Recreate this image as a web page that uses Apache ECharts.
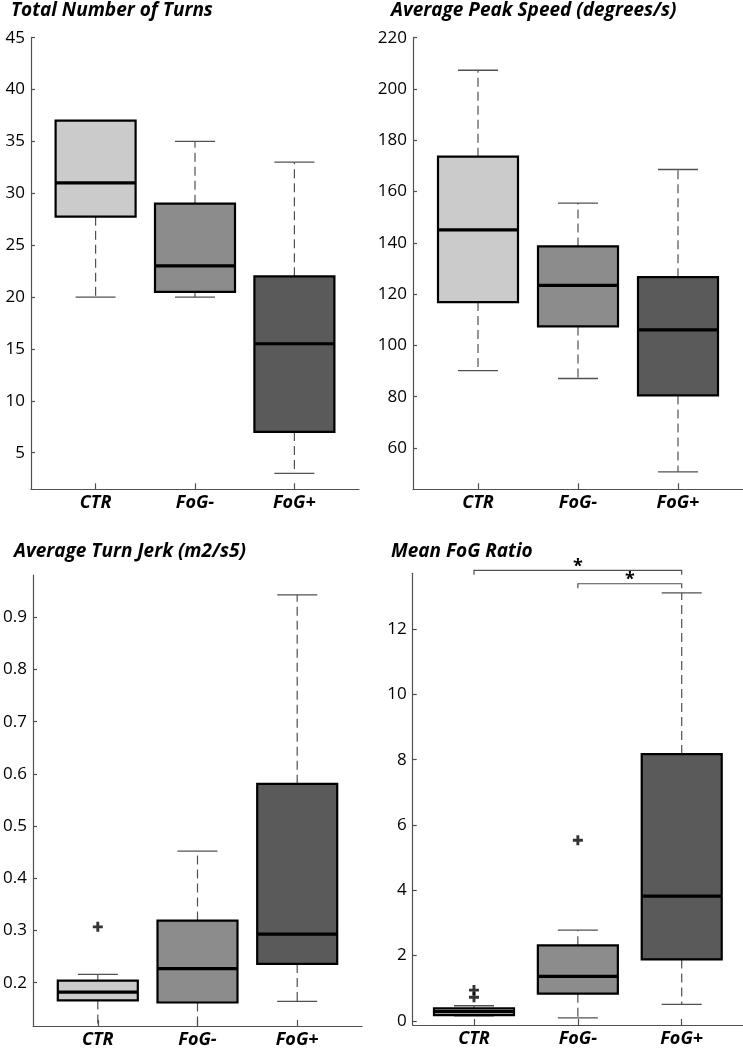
<!DOCTYPE html>
<html>
<head>
<meta charset="utf-8">
<script src="https://cdn.jsdelivr.net/npm/echarts@6/dist/echarts.min.js"></script>
<style>
  html, body { margin: 0; padding: 0; background: #fff; }
  #chart { width: 743px; height: 1050px; }
</style>
</head>
<body>
<div id="chart"></div>
<script>
// ---- Data ----
const categories = ['CTR', 'FoG-', 'FoG+'];

// [min whisker, Q1, median, Q3, max whisker]
const turnsStats = [[20, 27.75, 31, 37, 37], [20, 20.5, 23, 29, 35], [3, 7, 15.5, 22, 33]];
const speedStats = [[90.2, 116.9, 145.1, 173.6, 207.3], [87.1, 107.4, 123.4, 138.6, 155.5], [50.7, 80.5, 106.1, 126.6, 168.6]];
const jerkStats = [[0.10, 0.166, 0.182, 0.204, 0.216], [0.10, 0.162, 0.227, 0.319, 0.452], [0.164, 0.236, 0.293, 0.581, 0.943]];
const fogStats = [[0.15, 0.175, 0.28, 0.38, 0.46], [0.09, 0.83, 1.36, 2.31, 2.78], [0.50, 1.88, 3.82, 8.17, 13.11]];

// outliers: [category index, value]
const turnsOutliers = [];
const speedOutliers = [];
const jerkOutliers = [[0, 0.307]];
const fogOutliers = [[0, 0.94], [0, 0.72], [1, 5.53]];

// significance brackets: [from category, to category, bracket level]
const fogSignificance = [[0, 2, 13.80], [1, 2, 13.39]];

// tick labels
const turnsTicks = [5, 10, 15, 20, 25, 30, 35, 40, 45];
const speedTicks = [60, 80, 100, 120, 140, 160, 180, 200, 220];
const jerkTicks = [0.2, 0.3, 0.4, 0.5, 0.6, 0.7, 0.8, 0.9];
const fogTicks = [0, 2, 4, 6, 8, 10, 12];
const categoryTicks = [1, 2, 3];

const titles = ['Total Number of Turns', 'Average Peak Speed (degrees/s)', 'Average Turn Jerk (m2/s5)', 'Mean FoG Ratio'];

// ---- Styling ----
const FONT = "'Open Sans', 'Noto Sans', sans-serif";
const boxColors = ['#cbcbcb', '#8c8c8c', '#5a5a5a'];
const AXIS_COLOR = '#505050';
const BOX_HALF = 40;
const CAP_HALF = 20;

const panels = [
  { stats: turnsStats, outliers: turnsOutliers, ticks: turnsTicks, ymin: 1.47, ymax: 45, xmin: 0.35, xmax: 3.65,
    grid: { left: 31, top: 37.7, width: 328, height: 451.6 }, title: { left: 11, top: 1 } },
  { stats: speedStats, outliers: speedOutliers, ticks: speedTicks, ymin: 43.9, ymax: 220, xmin: 0.35, xmax: 3.65,
    grid: { left: 413, top: 37.7, width: 330, height: 451.6 }, title: { left: 391, top: 1 } },
  { stats: jerkStats, outliers: jerkOutliers, ticks: jerkTicks, ymin: 0.117, ymax: 0.981, xmin: 0.35, xmax: 3.65,
    grid: { left: 33, top: 575, width: 329, height: 451 }, title: { left: 14, top: 542.5 } },
  { stats: fogStats, outliers: fogOutliers, ticks: fogTicks, ymin: -0.13, ymax: 13.71, xmin: 0.41, xmax: 3.59,
    grid: { left: 412.7, top: 573.3, width: 330.3, height: 451.7 }, title: { left: 391, top: 542.5 } }
];

function boxRender(params, api) {
  const idx = api.value(0);
  const v = [api.value(1), api.value(2), api.value(3), api.value(4), api.value(5)];
  const cs = params.coordSys;
  const cx = api.coord([idx, v[2]])[0];
  const yOf = (val) => api.coord([idx, val])[1];
  const top = cs.y, bottom = cs.y + cs.height;
  const clampY = (y) => Math.max(top, Math.min(bottom, y));
  const yMin = yOf(v[0]), yQ1 = yOf(v[1]), yMed = yOf(v[2]), yQ3 = yOf(v[3]), yMax = yOf(v[4]);
  const whiskerStyle = { stroke: AXIS_COLOR, lineWidth: 1.2, lineDash: [9, 5] };
  const capStyle = { stroke: AXIS_COLOR, lineWidth: 1.3 };
  const children = [];
  if (yMin > yQ1) children.push({ type: 'line', shape: { x1: cx, y1: yQ1, x2: cx, y2: clampY(yMin) }, style: whiskerStyle });
  if (yMax < yQ3) children.push({ type: 'line', shape: { x1: cx, y1: yQ3, x2: cx, y2: clampY(yMax) }, style: whiskerStyle });
  if (yMin <= bottom) children.push({ type: 'line', shape: { x1: cx - CAP_HALF, y1: yMin, x2: cx + CAP_HALF, y2: yMin }, style: capStyle });
  if (yMax >= top) children.push({ type: 'line', shape: { x1: cx - CAP_HALF, y1: yMax, x2: cx + CAP_HALF, y2: yMax }, style: capStyle });
  children.push({ type: 'rect', shape: { x: cx - BOX_HALF, y: yQ3, width: BOX_HALF * 2, height: yQ1 - yQ3 },
    style: { fill: boxColors[Math.round(idx) - 1], stroke: '#000', lineWidth: 2.2 } });
  children.push({ type: 'line', shape: { x1: cx - BOX_HALF, y1: yMed, x2: cx + BOX_HALF, y2: yMed },
    style: { stroke: '#000', lineWidth: 3.2 } });
  return { type: 'group', children };
}

function bracketRender(params, api) {
  const a = api.value(0), b = api.value(1), h = api.value(2);
  const p1 = api.coord([a, h]);
  const p2 = api.coord([b, h]);
  const stroke = { stroke: AXIS_COLOR, lineWidth: 1.2 };
  return {
    type: 'group',
    children: [
      { type: 'polyline', shape: { points: [[p1[0], p1[1] + 4.5], [p1[0], p1[1]], [p2[0], p2[1]], [p2[0], p2[1] + 4.5]] }, style: Object.assign({ fill: null }, stroke) },
      { type: 'text', style: { text: '*', x: (p1[0] + p2[0]) / 2, y: p1[1] - 3.5, align: 'center', verticalAlign: 'middle',
        font: 'bold 18px ' + FONT, fill: '#000' } }
    ]
  };
}

const plusSymbol = 'path://M3.2,0H5.8V3.2H9V5.8H5.8V9H3.2V5.8H0V3.2H3.2Z';

const option = {
  animation: false,
  backgroundColor: '#fff',
  title: [],
  grid: [],
  xAxis: [],
  yAxis: [],
  series: []
};

panels.forEach((p, i) => {
  option.title.push({
    text: titles[i], left: p.title.left, top: p.title.top, padding: 0,
    textStyle: { fontFamily: FONT, fontSize: 19, fontWeight: 'bold', fontStyle: 'italic', color: '#000' }
  });
  option.grid.push(Object.assign({ outerBoundsMode: 'none', containLabel: false }, p.grid));
  option.xAxis.push({
    type: 'value', gridIndex: i, min: p.xmin, max: p.xmax,
    axisLine: { show: true, onZero: false, lineStyle: { color: AXIS_COLOR, width: 1.2 } },
    axisTick: { show: true, inside: true, length: 6, customValues: categoryTicks, lineStyle: { color: AXIS_COLOR, width: 1.2 } },
    axisLabel: { show: true, customValues: categoryTicks, margin: 5, fontFamily: FONT, fontSize: 18, fontWeight: 'bold', fontStyle: 'italic', color: '#000',
      formatter: (val) => categories[Math.round(val) - 1] || '' },
    splitLine: { show: false }
  });
  option.yAxis.push({
    type: 'value', gridIndex: i, min: p.ymin, max: p.ymax,
    axisLine: { show: true, onZero: false, lineStyle: { color: AXIS_COLOR, width: 1.2 } },
    axisTick: { show: true, inside: true, length: 4, customValues: p.ticks, lineStyle: { color: AXIS_COLOR, width: 1.2 } },
    axisLabel: { show: true, customValues: p.ticks, margin: 6, fontFamily: FONT, fontSize: 17, color: '#000',
      formatter: (val) => String(Math.round(val * 1000) / 1000) },
    splitLine: { show: false }
  });
  option.series.push({
    type: 'custom', xAxisIndex: i, yAxisIndex: i, clip: false, silent: true,
    renderItem: boxRender,
    encode: { x: 0, y: [1, 2, 3, 4, 5] },
    data: p.stats.map((s, k) => [k + 1].concat(s))
  });
  if (p.outliers.length) {
    option.series.push({
      type: 'scatter', xAxisIndex: i, yAxisIndex: i, silent: true,
      symbol: plusSymbol, symbolSize: 10, itemStyle: { color: '#000' },
      data: p.outliers.map((o) => [o[0] + 1, o[1]]),
      z: 5
    });
  }
});

option.series.push({
  type: 'custom', xAxisIndex: 3, yAxisIndex: 3, clip: false, silent: true,
  renderItem: bracketRender,
  encode: { x: [0, 1], y: 2 },
  data: fogSignificance.map((s) => [s[0] + 1, s[1] + 1, s[2]])
});

const chart = echarts.init(document.getElementById('chart'), null, { renderer: 'canvas' });
chart.setOption(option);
</script>
</body>
</html>
